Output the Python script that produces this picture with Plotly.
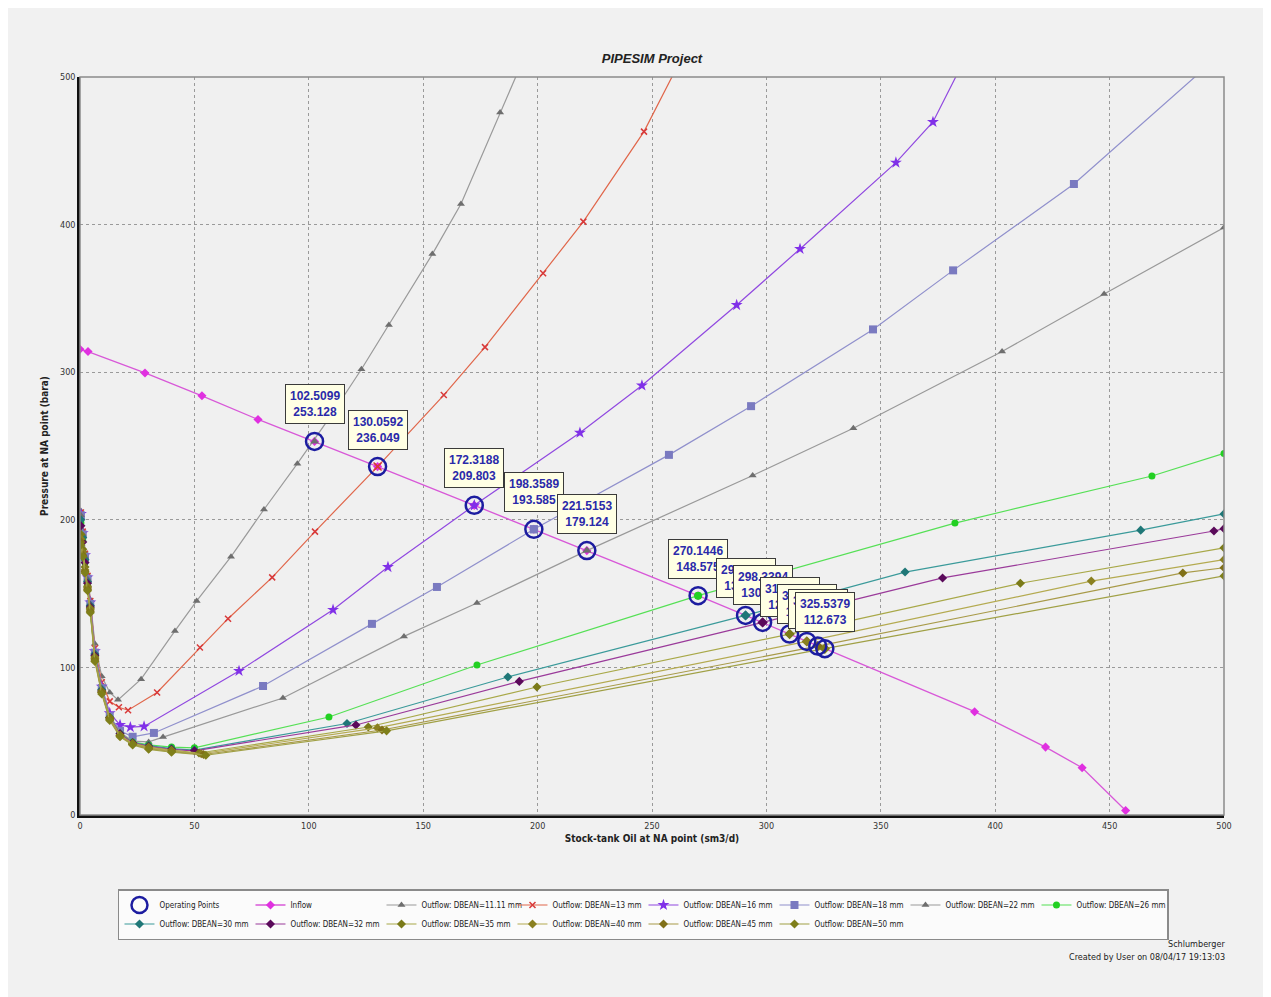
import plotly.graph_objects as go

# ---------------- data ----------------
inflow_x = [0, 3.5, 28.4, 53.3, 77.8, 102.51, 130.06, 172.32, 198.36, 221.52, 270.14, 290.89, 298.34, 310.14, 317.66, 322.44, 325.54, 391, 422, 438, 457]
inflow_y = [315.5, 314, 299.5, 284, 268, 253.13, 236.05, 209.8, 193.59, 179.12, 148.58, 135.2, 130.5, 122.6, 117.6, 114.4, 112.67, 70, 46, 32, 3]

out_names = ["11.11", "13", "16", "18", "22", "26", "30", "32", "35", "40", "45", "50"]

o1111_x = [0.4, 1.2, 2.2, 3.3, 4.5, 6.5, 9.5, 13, 16.6, 26.7, 41.5, 51, 66, 80.4, 95, 109, 123, 135, 154, 166.5, 183.6, 196]
o1111_y = [206, 193, 178, 163, 146, 116, 94, 83, 78, 92, 124.7, 145, 175, 207, 238, 269, 302, 332, 380, 414, 476, 520]

o13_x = [0.4, 1.2, 2.2, 3.3, 4.5, 6.5, 9.5, 13, 17, 21, 33.7, 52.4, 64.7, 84, 102.7, 130.06, 159, 177, 202.4, 220, 246.5, 262]
o13_y = [205, 192, 177, 162, 145, 113, 90, 77, 73, 71, 83, 113.5, 133, 161, 192, 236.05, 284.5, 317, 367, 402, 463, 510]

o16_x = [0.4, 1.2, 2.2, 3.3, 4.5, 6.5, 9.5, 13, 17.5, 22, 28, 69.5, 110.6, 134.6, 172.32, 218.5, 245.6, 287, 314.7, 356.6, 372.8, 386]
o16_y = [204, 191, 176, 161, 144, 111, 87, 69, 61, 59.5, 60, 97.6, 139, 168, 209.8, 259, 291, 345.5, 383.5, 442, 469.5, 510]

o18_x = [0.4, 1.2, 2.2, 3.3, 4.5, 6.5, 9.5, 13, 17.5, 23, 32.3, 80, 127.6, 156, 198.36, 257.4, 293.3, 346.6, 381.6, 434.4, 496]
o18_y = [203, 190, 175, 160, 143, 110, 86, 67, 57, 53, 55.6, 87.4, 129.5, 154.5, 193.59, 244, 277, 329, 369, 427.5, 512]

o22_x = [0.4, 1.2, 2.2, 3.3, 4.5, 6.5, 9.5, 13, 17.5, 23, 30, 36.3, 88.7, 141.6, 173.5, 221.52, 294, 338, 403, 447.6, 500]
o22_y = [203, 190, 175, 160, 143, 110, 86, 67, 56, 50, 49.5, 52.8, 79.3, 121, 143.6, 179.12, 230, 262, 314, 353, 398]

o26_x = [0.4, 1.2, 2.2, 3.3, 4.5, 6.5, 9.5, 13, 17.5, 23, 30, 40, 50, 108.8, 173.5, 270.14, 382.4, 468.5, 500]
o26_y = [198, 186, 171, 157, 141, 108, 84, 66, 55, 49.5, 47.5, 46, 45.5, 66.4, 101.6, 148.58, 197.8, 229.7, 245]

o30_x = [0.4, 1.2, 2.2, 3.3, 4.5, 6.5, 9.5, 13, 17.5, 23, 30, 40, 50, 116.7, 187, 290.89, 360.6, 463.6, 500]
o30_y = [200, 188, 173, 158, 142, 109, 85, 66, 55, 49, 47, 45, 44, 62, 93.5, 135.2, 164.6, 193, 204]

o32_x = [0.4, 1.2, 2.2, 3.3, 4.5, 6.5, 9.5, 13, 17.5, 23, 30, 40, 50, 120.6, 192, 298.34, 377, 495.6, 500]
o32_y = [196, 185, 171, 157, 141, 108, 84, 66, 55, 49, 46.5, 44.5, 43.5, 61, 90.5, 130.5, 160.6, 192.4, 194]

o35_x = [0.4, 1.2, 2.2, 3.3, 4.5, 6.5, 9.5, 13, 17.5, 23, 30, 40, 52, 126, 199.7, 310.14, 411, 500]
o35_y = [190, 180, 168, 155, 140, 107, 84, 66, 54, 48.5, 46, 44, 42, 59.6, 86.7, 122.6, 157, 181]

o40_x = [0.4, 1.2, 2.2, 3.3, 4.5, 6.5, 9.5, 13, 17.5, 23, 30, 40, 53, 130, 317.66, 442, 500]
o40_y = [187, 178, 166, 154, 139, 106, 83, 65, 54, 48, 45.5, 43.5, 41.5, 59, 117.6, 158.5, 173]

o45_x = [0.4, 1.2, 2.2, 3.3, 4.5, 6.5, 9.5, 13, 17.5, 23, 30, 40, 54, 132, 322.44, 482, 500]
o45_y = [185, 176, 165, 153, 138, 105, 83, 65, 53.5, 48, 45, 43, 41, 57.6, 114.4, 164, 167.5]

o50_x = [0.4, 1.2, 2.2, 3.3, 4.5, 6.5, 9.5, 13, 17.5, 23, 30, 40, 55, 134, 325.54, 500]
o50_y = [183, 175, 164, 152, 137, 104, 82, 64, 53, 47.5, 44.5, 42.5, 40.5, 57, 112.67, 162]

op_x = [102.5099, 130.0592, 172.3188, 198.3589, 221.5153, 270.1446, 290.8871, 298.3394, 310.1436, 317.6602, 322.4418, 325.5379]
op_y = [253.128, 236.049, 209.803, 193.585, 179.124, 148.575, 135.218, 130.492, 122.627, 117.617, 114.441, 112.673]

x_ticks = [0, 50, 100, 150, 200, 250, 300, 350, 400, 450, 500]
y_ticks = [0, 100, 200, 300, 400, 500]

# ---------------- styles ----------------
out_data = [(o1111_x, o1111_y), (o13_x, o13_y), (o16_x, o16_y), (o18_x, o18_y), (o22_x, o22_y),
            (o26_x, o26_y), (o30_x, o30_y), (o32_x, o32_y), (o35_x, o35_y), (o40_x, o40_y),
            (o45_x, o45_y), (o50_x, o50_y)]
line_colors = ["#9a9a9a", "#e0664a", "#9048e0", "#9090cc", "#999999", "#55e055",
               "#3a9a9a", "#9a3a9a", "#a8a848", "#b4aa50", "#a89a48", "#a0a045"]
mark_colors = ["#6e6e6e", "#d83a3a", "#8030e8", "#7a7ac0", "#6e6e6e", "#22d022",
               "#1f7777", "#5a0a5a", "#7a7a18", "#8a8020", "#807018", "#7f7f1a"]
mark_syms = ["triangle-up", "x-thin-open", "star", "square", "triangle-up", "circle",
             "diamond", "diamond", "diamond", "diamond", "diamond", "diamond"]
mark_sizes = [7, 6, 9, 8, 7, 7, 7, 7, 7, 7, 7, 7]

FONT = "DejaVu Sans Condensed, Liberation Sans Narrow, Arial Narrow, Liberation Sans, Arial, sans-serif"

fig = go.Figure()

fig.add_trace(go.Scatter(
    x=inflow_x, y=inflow_y, mode="lines+markers", name="Inflow",
    line=dict(color="#d858d8", width=1.3),
    marker=dict(symbol="diamond", size=7, color="#e030e0"),
    legendrank=2))

for i, (xs, ys) in enumerate(out_data):
    fig.add_trace(go.Scatter(
        x=xs, y=ys, mode="lines+markers", name="Outflow: DBEAN=" + out_names[i] + " mm",
        line=dict(color=line_colors[i], width=1.2),
        marker=dict(symbol=mark_syms[i], size=mark_sizes[i], color=mark_colors[i],
                    line=dict(color=mark_colors[i], width=1.5 if mark_syms[i] == "x-thin-open" else 0)),
        legendrank=3 + i))

# inner markers of operating points
fig.add_trace(go.Scatter(
    x=op_x, y=op_y, mode="markers", showlegend=False, hoverinfo="skip",
    marker=dict(symbol=mark_syms, size=8, color=mark_colors,
                line=dict(color=mark_colors, width=[1.5 if s == "x-thin-open" else 0 for s in mark_syms]))))

fig.add_trace(go.Scatter(
    x=op_x, y=op_y, mode="markers", name="Operating Points",
    marker=dict(symbol="circle-open", size=17, color="#1c1ca0", line=dict(width=2.5, color="#1c1ca0")),
    legendrank=1))

for xv, yv in zip(op_x, op_y):
    fig.add_annotation(
        x=xv, y=yv, xref="x", yref="y", showarrow=False, yshift=37,
        text=f"{xv:.4f}<br>{yv:.3f}",
        font=dict(family="Liberation Sans, Arial, sans-serif", size=12, color="#2a2aaa", weight="bold"),
        bgcolor="#ffffe4", bordercolor="#3a3a3a", borderwidth=1, borderpad=4, align="center")

# footer
fig.add_annotation(xref="paper", yref="paper", x=1.003, y=(815 - 944) / 738, xanchor="right", yanchor="middle",
                   text="Schlumberger", showarrow=False, font=dict(family=FONT, size=9, color="#222"))
fig.add_annotation(xref="paper", yref="paper", x=1.003, y=(815 - 957) / 738, xanchor="right", yanchor="middle",
                   text="Created by User on 08/04/17 19:13:03", showarrow=False,
                   font=dict(family=FONT, size=9, color="#222"))

# gray frame top/right
fig.add_shape(type="rect", xref="paper", yref="paper", x0=0, y0=0, x1=1, y1=1,
              line=dict(color="#8a8a8a", width=1.5), layer="above")

fig.update_layout(
    width=1263, height=989,
    margin=dict(l=72, r=47, t=69, b=182),
    paper_bgcolor="#f1f1f1", plot_bgcolor="#f0f0f0",
    title=dict(text="<b><i>PIPESIM Project</i></b>", x=0.5, xref="paper", y=1 - 50 / 989, yanchor="middle",
               font=dict(family="Liberation Sans, Arial, sans-serif", size=13, color="#222")),
    font=dict(family=FONT, size=9, color="#222"),
    showlegend=True,
    legend=dict(orientation="h", x=0.0332, y=(815 - 889) / 738, xanchor="left", yanchor="top",
                bgcolor="#fbfbfb", bordercolor="#8a8a8a", borderwidth=1.5,
                font=dict(family=FONT, size=8, color="#222"),
                entrywidth=86, entrywidthmode="pixels", itemwidth=30, tracegroupgap=0),
    xaxis=dict(range=[0, 500], tickvals=x_ticks, ticktext=[str(v) for v in x_ticks],
               showgrid=True, gridcolor="#9a9a9a", griddash="dot", gridwidth=1,
               zeroline=False, showline=True, linecolor="#111", linewidth=2.5, ticks="",
               tickfont=dict(family=FONT, size=9, color="#333"),
               title=dict(text="<b>Stock-tank Oil at NA point (sm3/d)</b>", standoff=6,
                          font=dict(family=FONT, size=10, color="#222"))),
    yaxis=dict(range=[0, 500], tickvals=y_ticks, ticktext=[str(v) for v in y_ticks],
               showgrid=True, gridcolor="#9a9a9a", griddash="dot", gridwidth=1,
               zeroline=False, showline=True, linecolor="#111", linewidth=2.5, ticks="",
               tickfont=dict(family=FONT, size=9, color="#333"),
               title=dict(text="<b>Pressure at NA point (bara)</b>", standoff=10,
                          font=dict(family=FONT, size=10, color="#222"))),
)

fig.write_html("out.html")
